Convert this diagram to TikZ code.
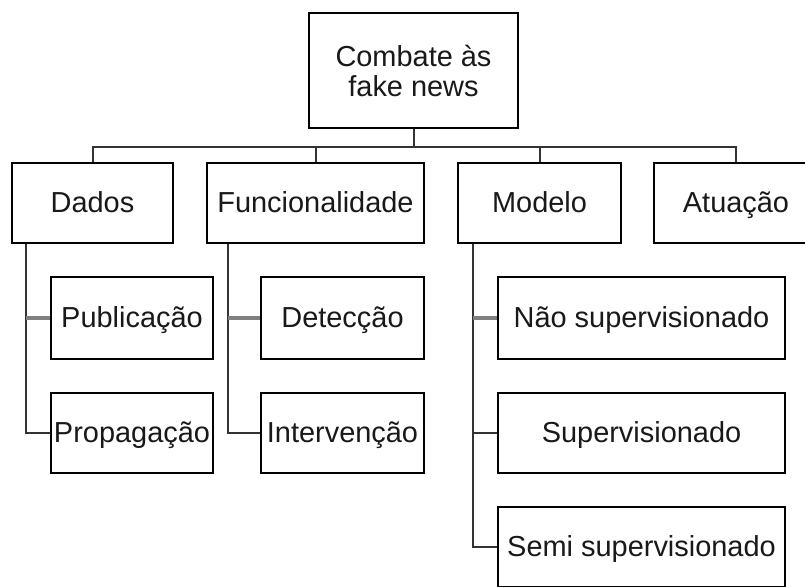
\documentclass[tikz,border=0pt]{standalone}
\usepackage{fontspec}
\setmainfont{Liberation Sans}
\usetikzlibrary{calc}
\tikzset{
  box/.style={draw=black, line width=1.5pt, fill=white, inner sep=0pt, align=center,
    font=\fontsize{21.7}{22.5}\selectfont, text=black!90},
  sbox/.style={box, text height=16.5pt, text depth=3pt},
  conn/.style={draw=black!80, line width=1.5pt},
  gconn/.style={draw=black!50, line width=2.4pt},
}
\begin{document}
\begin{tikzpicture}[x=0.75pt,y=-0.75pt]
\useasboundingbox (0,0) rectangle (805,586);
\clip (0,0) rectangle (805,586);
\fill[white] (0,0) rectangle (805,586);
% nodes
\node[box, minimum width=156.75pt, minimum height=86.25pt] (root) at (413.5,70.5) {Combate às\\fake news};
\node[sbox, minimum width=120.75pt, minimum height=60pt] (dados) at (92.5,203) {Dados};
\node[sbox, minimum width=162.75pt, minimum height=60pt] (func) at (315.5,203) {Funcionalidade};
\node[sbox, minimum width=122.25pt, minimum height=60pt] (modelo) at (539.5,203) {Modelo};
\node[sbox, minimum width=123pt, minimum height=60pt] (atuacao) at (736,203) {Atuação};
\node[sbox, minimum width=121.5pt, minimum height=61.5pt] (pub) at (132,318) {Publicação};
\node[sbox, minimum width=121.5pt, minimum height=60pt] (prop) at (132,433) {Propagação};
\node[sbox, minimum width=122.25pt, minimum height=61.5pt] (det) at (342.5,318) {Detecção};
\node[sbox, minimum width=122.25pt, minimum height=60pt] (interv) at (342.5,433) {Intervenção};
\node[sbox, minimum width=215.25pt, minimum height=61.5pt] (nao) at (641.5,318) {Não supervisionado};
\node[sbox, minimum width=215.25pt, minimum height=60pt] (sup) at (641.5,433) {Supervisionado};
\node[sbox, minimum width=215.25pt, minimum height=60pt] (semi) at (641.5,547) {Semi supervisionado};
% bus
\coordinate (bus) at (413.5,147);
\draw[conn] (root.south) -- (bus);
\draw[conn] (dados.north) |- (bus) -| (atuacao.north);
\draw[conn] (func.north) -- (func.north |- bus);
\draw[conn] (modelo.north) -- (modelo.north |- bus);
% Dados children
\coordinate (dv) at ($(dados.south west)+(15,0)$);
\draw[conn] (dv) |- (prop.west);
\draw[gconn] (dv |- pub.west) -- (pub.west);
% Funcionalidade children
\coordinate (fv) at ($(func.south west)+(22,0)$);
\draw[conn] (fv) |- (interv.west);
\draw[gconn] (fv |- det.west) -- (det.west);
% Modelo children
\coordinate (mv) at ($(modelo.south west)+(16,0)$);
\draw[conn] (mv) |- (semi.west);
\draw[gconn] (mv |- nao.west) -- (nao.west);
\draw[conn] (mv |- sup.west) -- (sup.west);
\end{tikzpicture}
\end{document}
